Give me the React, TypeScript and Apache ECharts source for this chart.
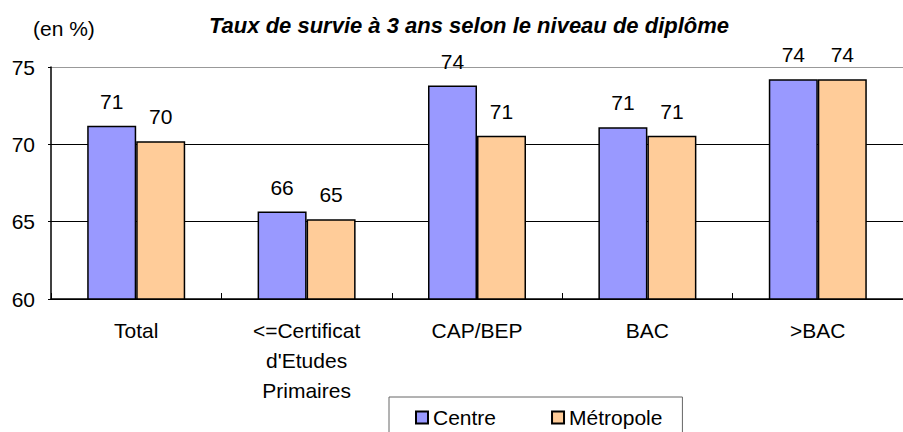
import React, { useEffect, useRef } from "react";
import * as echarts from "echarts";

const categories = ["Total", "<=Certificat\nd'Etudes\nPrimaires", "CAP/BEP", "BAC", ">BAC"];
const centreValues = [71.2, 65.65, 73.8, 71.1, 74.2];
const metropoleValues = [70.2, 65.15, 70.55, 70.55, 74.2];
const seriesNames = ["Centre", "Métropole"];
const yTicks = { min: 60, max: 75, interval: 5 };
const titleText = "Taux de survie à 3 ans selon le niveau de diplôme";
const unitText = "(en %)";

const FONT = "'Liberation Sans', Arial, sans-serif";

export default function App() {
  const ref = useRef<HTMLDivElement>(null);
  useEffect(() => {
    if (!ref.current) return;
    const chart = echarts.init(ref.current, null, { renderer: "svg" });
    const labelCfg = {
      show: true,
      position: "top",
      distance: 14,
      fontSize: 21,
      fontFamily: FONT,
      color: "#000",
      formatter: (p: any) => String(Math.round(p.value)),
    };
    chart.setOption({
      animation: false,
      backgroundColor: "#fff",
      textStyle: { fontFamily: FONT },
      graphic: [
        {
          type: "text",
          x: 469,
          y: 25,
          style: {
            text: titleText,
            font: `italic bold 22px ${FONT}`,
            fill: "#000",
            align: "center",
            verticalAlign: "middle",
          },
        },
        {
          type: "text",
          x: 33,
          y: 28,
          style: {
            text: unitText,
            font: `21px ${FONT}`,
            fill: "#000",
            align: "left",
            verticalAlign: "middle",
          },
        },
      ],
      legend: {
        left: 389,
        top: 397,
        padding: [10, 20, 40, 26],
        borderColor: "#666",
        borderWidth: 1,
        itemWidth: 12,
        itemHeight: 12,
        itemGap: 55,
        icon: "rect",
        textStyle: { fontSize: 21, fontFamily: FONT, color: "#000" },
        data: seriesNames,
      },
      grid: { left: 51, right: -13, top: 67, bottom: 133, containLabel: false },
      xAxis: {
        type: "category",
        data: categories,
        axisLine: { show: true, lineStyle: { color: "#000", width: 1.5 } },
        axisTick: { show: true, inside: true, length: 6, lineStyle: { color: "#000" } },
        axisLabel: {
          fontSize: 21,
          fontFamily: FONT,
          color: "#000",
          lineHeight: 30,
          margin: 16,
          interval: 0,
        },
        splitLine: { show: false },
      },
      yAxis: {
        type: "value",
        min: yTicks.min,
        max: yTicks.max,
        interval: yTicks.interval,
        axisLine: { show: true, lineStyle: { color: "#000", width: 1.5 } },
        axisTick: { show: true, length: 3, lineStyle: { color: "#000" } },
        axisLabel: { fontSize: 21, fontFamily: FONT, color: "#000", margin: 16 },
        splitLine: {
          show: true,
          lineStyle: { color: ["#000", "#000", "#000", "#999"], width: 1 },
        },
      },
      series: [
        {
          name: seriesNames[0],
          type: "bar",
          data: centreValues,
          barWidth: 49,
          barGap: "0%",
          itemStyle: { color: "#9999FF", borderColor: "#000", borderWidth: 1.5 },
          label: labelCfg,
        },
        {
          name: seriesNames[1],
          type: "bar",
          data: metropoleValues,
          barWidth: 49,
          barGap: "0%",
          itemStyle: { color: "#FFCC99", borderColor: "#000", borderWidth: 1.5 },
          label: labelCfg,
        },
      ],
    });
    return () => chart.dispose();
  }, []);
  return (
    <div
      ref={ref}
      style={{ position: "fixed", left: 0, top: 0, width: 903, height: 432 }}
    />
  );
}
